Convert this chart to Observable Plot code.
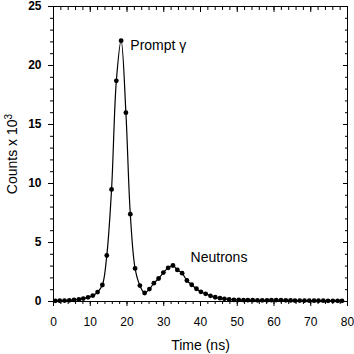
<!DOCTYPE html>
<html>
<head>
<meta charset="utf-8">
<script src="https://cdn.jsdelivr.net/npm/d3@7"></script>
<script src="https://cdn.jsdelivr.net/npm/@observablehq/plot@0.6"></script>
<style>
  html, body { margin: 0; padding: 0; background: #fff; }
  #chart svg { display: block; }
</style>
</head>
<body>
<div id="chart"></div>
<script>
const timeNs = [0.5, 1.7, 3.0, 4.3, 5.6, 6.9, 8.1, 9.4, 10.7, 12.0, 13.3, 14.5, 15.8, 17.1, 18.4, 19.7, 20.9, 22.2, 23.5, 24.8, 26.1, 27.3, 28.6, 29.9, 31.2, 32.5, 33.7, 35.0, 36.3, 37.6, 38.9, 40.1, 41.4, 42.7, 44.0, 45.3, 46.5, 47.8, 49.1, 50.4, 51.7, 52.9, 54.2, 55.5, 56.8, 58.1, 59.3, 60.6, 61.9, 63.2, 64.5, 65.7, 67.0, 68.3, 69.6, 70.9, 72.1, 73.4, 74.7, 76.0, 77.3, 78.5];
const counts = [0.06, 0.07, 0.08, 0.10, 0.13, 0.18, 0.25, 0.35, 0.50, 0.80, 1.40, 3.90, 9.50, 18.7, 22.1, 16.0, 7.40, 2.80, 1.35, 0.72, 1.05, 1.55, 1.95, 2.45, 2.85, 3.05, 2.68, 2.40, 1.78, 1.42, 1.08, 0.82, 0.65, 0.48, 0.36, 0.28, 0.23, 0.17, 0.14, 0.13, 0.12, 0.11, 0.11, 0.10, 0.10, 0.10, 0.11, 0.12, 0.12, 0.10, 0.09, 0.08, 0.08, 0.08, 0.07, 0.07, 0.07, 0.07, 0.06, 0.06, 0.06, 0.06];
const xMajorTicks = [0, 10, 20, 30, 40, 50, 60, 70, 80];
const xMinorTicks = [0, 2, 4, 6, 8, 10, 12, 14, 16, 18, 20, 22, 24, 26, 28, 30, 32, 34, 36, 38, 40, 42, 44, 46, 48, 50, 52, 54, 56, 58, 60, 62, 64, 66, 68, 70, 72, 74, 76, 78, 80];
const yMajorTicks = [0, 5, 10, 15, 20, 25];
const yMinorTicks = [0, 1, 2, 3, 4, 5, 6, 7, 8, 9, 10, 11, 12, 13, 14, 15, 16, 17, 18, 19, 20, 21, 22, 23, 24, 25];
const xTitle = ["Time (ns)"];
const yTitleBase = "Counts x 10";
const yTitleExponent = "3";
const peakLabels = ["Prompt γ"];
const neutronLabels = ["Neutrons"];

const data = timeNs.map((t, i) => ({t, c: counts[i]}));

const chart = Plot.plot({
  width: 354,
  height: 354,
  marginLeft: 53,
  marginRight: 7,
  marginTop: 6,
  marginBottom: 53,
  style: {fontFamily: "'Liberation Sans', Arial, sans-serif", fontSize: "12px", color: "#000", background: "#fff"},
  x: {domain: [0, 80]},
  y: {domain: [0, 25]},
  marks: [
    Plot.frame({stroke: "#000", strokeWidth: 1}),
    Plot.axisX({anchor: "bottom", ticks: xMinorTicks, tickSize: 3, text: null, label: null, stroke: "#000"}),
    Plot.axisX({anchor: "bottom", ticks: xMajorTicks, tickSize: 5, tickPadding: 11, label: null, stroke: "#000", fill: "#000", fontSize: 12}),
    Plot.axisX({anchor: "top", ticks: xMinorTicks, tickSize: 3, dy: 3, text: null, label: null, stroke: "#000"}),
    Plot.axisX({anchor: "top", ticks: xMajorTicks, tickSize: 5, dy: 5, text: null, label: null, stroke: "#000"}),
    Plot.axisY({anchor: "left", ticks: yMinorTicks, tickSize: 3, text: null, label: null, stroke: "#000"}),
    Plot.axisY({anchor: "left", ticks: yMajorTicks, tickSize: 5, tickPadding: 7, label: null, stroke: "#000", fill: "#000", fontSize: 12, fontWeight: "bold"}),
    Plot.axisY({anchor: "right", ticks: yMinorTicks, tickSize: 3, dx: -3, text: null, label: null, stroke: "#000"}),
    Plot.axisY({anchor: "right", ticks: yMajorTicks, tickSize: 5, dx: -5, text: null, label: null, stroke: "#000"}),
    Plot.line(data, {x: "t", y: "c", curve: "catmull-rom", stroke: "#000", strokeWidth: 1.2}),
    Plot.dot(data, {x: "t", y: "c", r: 2.4, fill: "#000", stroke: "none"}),
    Plot.text(peakLabels, {x: 20.9, y: 21.7, text: d => d, textAnchor: "start", fontSize: 14, fill: "#000"}),
    Plot.text(neutronLabels, {x: 37.3, y: 3.7, text: d => d, textAnchor: "start", fontSize: 14, fill: "#000"}),
    Plot.text(xTitle, {frameAnchor: "bottom", dy: 44, textAnchor: "middle", lineAnchor: "middle", text: d => d, fontSize: 14, fill: "#000"}),
    Plot.text([yTitleBase + yTitleExponent], {frameAnchor: "left", dx: -41, rotate: -90, textAnchor: "middle", lineAnchor: "middle", text: d => d, fontSize: 14, fill: "#000", className: "ytitle"})
  ]
});
// render the exponent as a real superscript
const yt = chart.querySelector(".ytitle text");
if (yt) {
  yt.textContent = yTitleBase;
  const sup = document.createElementNS("http://www.w3.org/2000/svg", "tspan");
  sup.setAttribute("dy", "-0.45em");
  sup.setAttribute("font-size", "10");
  sup.textContent = yTitleExponent;
  yt.appendChild(sup);
}
document.getElementById("chart").appendChild(chart);
</script>
</body>
</html>
